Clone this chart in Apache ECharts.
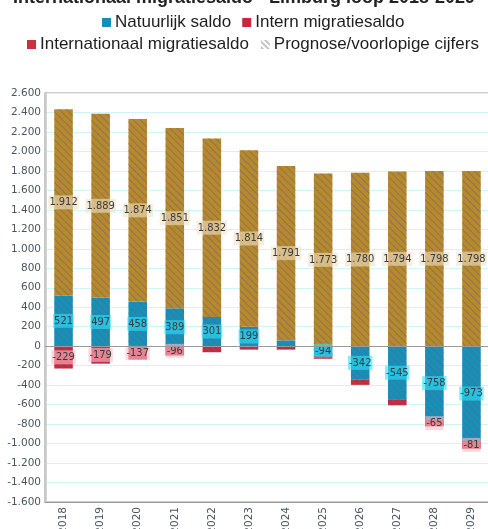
<!DOCTYPE html>
<html>
<head>
<meta charset="utf-8">
<script src="https://cdn.jsdelivr.net/npm/echarts@6/dist/echarts.min.js"></script>
<style>html,body{margin:0;padding:0;background:#fff}#c{width:488px;height:529px}</style>
</head>
<body>
<div id="c"></div>
<script>
const years = ['2018','2019','2020','2021','2022','2023','2024','2025','2026','2027','2028','2029'];
const natuurlijk = [521, 497, 458, 389, 301, 199, 60, -94, -342, -545, -758, -973];
const intern = [-229, -179, -137, -96, -62, -35, -35, -35, -55, -62, -65, -81];
const internationaal = [1912, 1889, 1874, 1851, 1832, 1814, 1791, 1773, 1780, 1794, 1798, 1798];
const natuurlijkLabelled = ['2018','2019','2020','2021','2022','2023','2025','2026','2027','2028','2029'];
const internLabelled = ['2018','2019','2020','2021','2028','2029'];
const yMin = -1600, yMax = 2600, yStep = 200;

function nl(v){
  const s = Math.abs(Math.round(v)).toString().replace(/\B(?=(\d{3})+(?!\d))/g, '.');
  return (v < 0 ? '-' : '') + s;
}
const hatch = {symbol:'rect', symbolSize:1, dashArrayX:[1,0], dashArrayY:[1,3.4], rotation:Math.PI/4, color:'rgba(100,100,125,0.55)'};
const lblFont = {fontFamily:'DejaVu Sans Condensed, DejaVu Sans', fontSize:11, color:'#3a3a3a', padding:[2,1,1,1], formatter:p=>nl(p.value)};
function items(vals, shown){
  return vals.map((v,i)=>({value:v, label:{show: shown ? shown.indexOf(years[i])>=0 : true}}));
}
const legendText = {fontFamily:'Liberation Sans', fontSize:17, color:'#1e1e1e', padding:[0,0,0,-1]};
const chart = echarts.init(document.getElementById('c'));
chart.setOption({
  animation:false,
  title:{text:'Internationaal migratiesaldo - Limburg loop 2018-2029', left:'center', top:-16,
    textStyle:{fontFamily:'Liberation Sans', fontWeight:'bold', fontSize:18, color:'#222'}},
  legend:[
    {data:['Natuurlijk saldo', 'Intern migratiesaldo'], top:9, left:97, icon:'rect', itemWidth:9, itemHeight:9, itemGap:11,
      textStyle:legendText, itemStyle:{decal:'none'}},
    {data:[{name:'Internationaal migratiesaldo', itemStyle:{color:'#c8313d', decal:'none'}}, 'Prognose/voorlopige cijfers'], top:31, left:22, icon:'rect', itemWidth:9, itemHeight:9, itemGap:12,
      textStyle:legendText}
  ],
  grid:{left:45, right:-2, top:93, bottom:27, outerBoundsMode:'none', containLabel:false, show:true, borderColor:'#9a9a9a', borderWidth:1},
  xAxis:{type:'category', data:years, axisTick:{show:false},
    axisLine:{onZero:false, lineStyle:{color:'#9a9a9a'}},
    axisLabel:{rotate:90, margin:5, fontFamily:'DejaVu Sans', fontSize:10.5, color:'#4a5560'}},
  yAxis:{type:'value', min:yMin, max:yMax, interval:yStep,
    axisLine:{show:true, lineStyle:{color:'#c8c8c8', width:2.5}},
    axisTick:{show:false},
    splitLine:{lineStyle:{color:'#d2f3fa'}},
    axisLabel:{margin:4, fontFamily:'DejaVu Sans', fontSize:10.5, color:'#4a5560', formatter:v=>nl(v)}},
  series:[
    {name:'Natuurlijk saldo', type:'bar', stack:'s', barWidth:'50%', data:items(natuurlijk, natuurlijkLabelled),
      itemStyle:{color:'#1590b9', decal:hatch},
      label:Object.assign({show:true, position:'inside', backgroundColor:'rgba(50,225,250,0.6)'}, lblFont),
      markLine:{silent:true, symbol:'none', label:{show:false}, lineStyle:{color:'#9a9a9a', type:'solid', width:1}, data:[{yAxis:0}]}},
    {name:'Intern migratiesaldo', type:'bar', stack:'s', data:items(intern, internLabelled),
      itemStyle:{color:'#c8283c', decal:hatch},
      label:Object.assign({show:true, position:'inside', backgroundColor:'rgba(255,190,200,0.6)'}, lblFont)},
    {name:'Internationaal migratiesaldo', type:'bar', stack:'s', data:items(internationaal, null),
      itemStyle:{color:'#b8892b', decal:hatch},
      label:Object.assign({show:true, position:'inside', backgroundColor:'rgba(240,225,195,0.6)'}, lblFont)},
    {name:'Prognose/voorlopige cijfers', type:'bar', stack:'s', data:[],
      itemStyle:{color:'#ffffff', decal:{symbol:'rect', symbolSize:1, dashArrayX:[1,0], dashArrayY:[1.3,1.6], rotation:Math.PI/4, color:'#c4c4c4'}}}
  ]
});
</script>
</body>
</html>
